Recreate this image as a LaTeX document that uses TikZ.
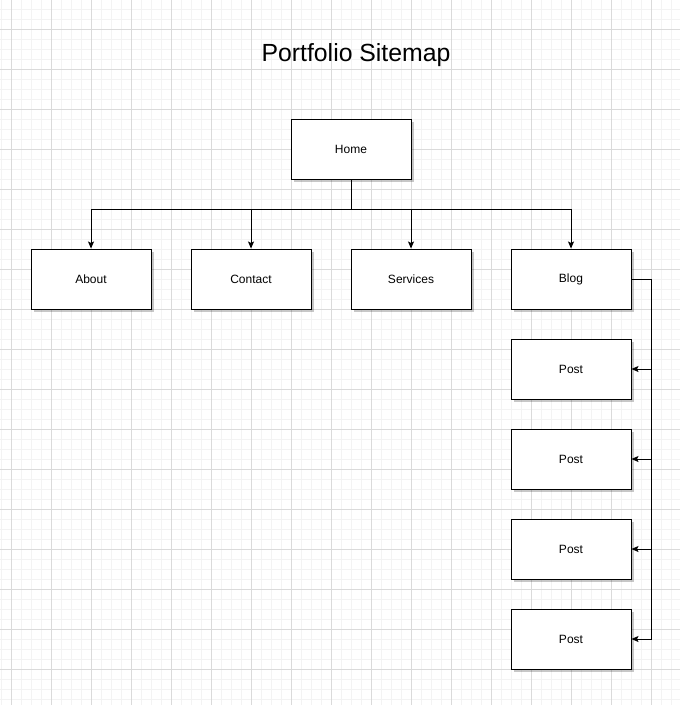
\documentclass[tikz,border=0pt]{standalone}
\usepackage{fontspec}
\setmainfont{Liberation Sans}
\usetikzlibrary{arrows.meta,shadows}
\definecolor{gridminor}{HTML}{F3F3F3}
\definecolor{gridmajor}{HTML}{DADADA}
\begin{document}
\begin{tikzpicture}[x=1pt,y=-1pt,
  pagebox/.style={draw=black,line width=1pt,fill=white,minimum width=120pt,minimum height=60pt,inner sep=0pt,
    font=\fontsize{12}{14}\selectfont,
    drop shadow={shadow xshift=2.5pt,shadow yshift=-2.5pt,opacity=0.22,fill=black}},
  link/.style={draw=black,line width=1pt,-{Stealth[length=7pt,width=6pt,inset=1.5pt]}},
  plain/.style={draw=black,line width=1pt}]
\useasboundingbox (0,0) rectangle (680,705);
\fill[white] (0,0) rectangle (680,705);
\foreach \x in {1,11,...,680} \draw[gridminor,line width=0.8pt] (\x,0) -- (\x,705);
\foreach \y in {9,19,...,705} \draw[gridminor,line width=0.8pt] (0,\y) -- (680,\y);
\foreach \x in {11,51,...,680} \draw[gridmajor,line width=0.8pt] (\x,0) -- (\x,705);
\foreach \y in {29,69,...,705} \draw[gridmajor,line width=0.8pt] (0,\y) -- (680,\y);
\node[font=\fontsize{24.8}{28}\selectfont] (title) at (356,55) {Portfolio Sitemap};
\node[pagebox] (home) at (351,149) {Home};
\node[pagebox] (about) at (91,279) {About};
\node[pagebox] (contact) at (251,279) {Contact};
\node[pagebox] (services) at (411,279) {Services};
\node[pagebox] (blog) at (571,279) {Blog};
\node[pagebox] (post1) at (571,369) {Post};
\node[pagebox] (post2) at (571,459) {Post};
\node[pagebox] (post3) at (571,549) {Post};
\node[pagebox] (post4) at (571,639) {Post};
\coordinate (bus) at (351,209);
\coordinate (rail) at (651,279);
\draw[link] (home.south) |- (bus) -| (about.north);
\draw[link] (bus) -| (contact.north);
\draw[link] (bus) -| (services.north);
\draw[link] (bus) -| (blog.north);
\draw[link] (blog.east) -- (rail) |- (post1.east);
\draw[link] (rail) |- (post2.east);
\draw[link] (rail) |- (post3.east);
\draw[link] (rail) |- (post4.east);
\end{tikzpicture}
\end{document}
